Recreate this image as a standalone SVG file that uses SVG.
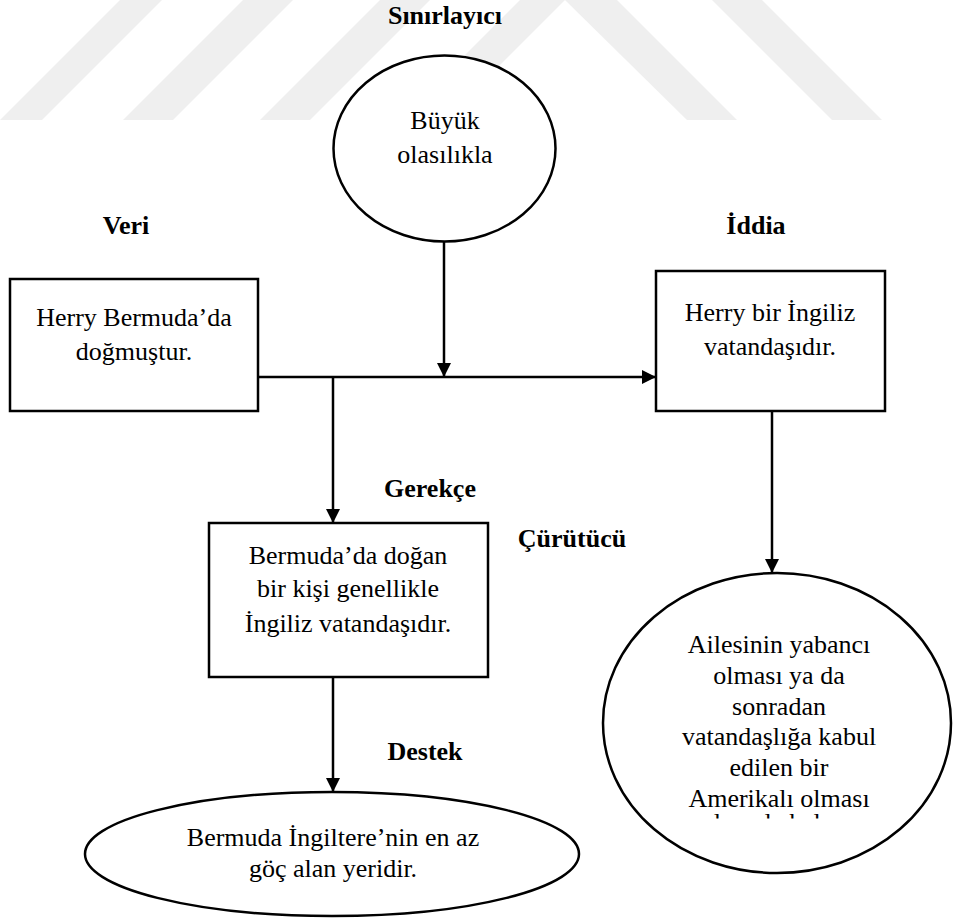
<svg xmlns="http://www.w3.org/2000/svg" width="953" height="918" viewBox="0 0 953 918">
<style>
.wm{fill:#efefef;stroke:none}
.shape{fill:#ffffff;stroke:#000000;stroke-width:2.5}
.t{font-family:"Liberation Serif","Times New Roman",serif;font-size:26px;fill:#000000;text-anchor:middle}
.b{font-weight:bold}
.conn{fill:none;stroke:#000000;stroke-width:2.5}
</style>
<defs>
<marker id="ah" markerUnits="userSpaceOnUse" markerWidth="16" markerHeight="16" refX="14" refY="7" orient="auto">
<path d="M0,0 L14,7 L0,14 z" fill="#000000"/>
</marker>
<clipPath id="clipLine">
<rect x="600" y="800" width="353" height="18.5"/>
</clipPath>
</defs>
<rect x="0" y="0" width="953" height="918" fill="#ffffff"/>
<g id="watermark">
<polygon class="wm" points="0,120 42,120 162,0 120,0 0,120"/>
<polygon class="wm" points="123,120 173,120 293,0 243,0"/>
<polygon class="wm" points="260,120 310,120 430,0 380,0"/>
<polygon class="wm" points="400,120 445,120 565,0 520,0"/>
<polygon class="wm" points="565,0 617,0 737,120 687,120"/>
<polygon class="wm" points="712,0 762,0 882,120 832,120"/>
</g>
<g id="connectors">
<line class="conn" x1="444" y1="241" x2="444" y2="377" marker-end="url(#ah)"/>
<line class="conn" x1="258" y1="377" x2="656" y2="377" marker-end="url(#ah)"/>
<line class="conn" x1="333" y1="377" x2="333" y2="523" marker-end="url(#ah)"/>
<line class="conn" x1="333" y1="677" x2="333" y2="792" marker-end="url(#ah)"/>
<line class="conn" x1="772" y1="411" x2="772" y2="573" marker-end="url(#ah)"/>
</g>
<g id="label-sinirlayici">
<text class="t b" x="445" y="24">Sınırlayıcı</text>
</g>
<g id="node-niteleyici">
<ellipse class="shape" cx="444.5" cy="148.5" rx="111" ry="93"/>
<text class="t" x="445" y="129">Büyük</text>
<text class="t" x="445" y="163">olasılıkla</text>
</g>
<g id="label-veri">
<text class="t b" x="126" y="234">Veri</text>
</g>
<g id="label-iddia">
<text class="t b" x="756" y="234">İddia</text>
</g>
<g id="node-veri">
<rect class="shape" x="10" y="279" width="248" height="132"/>
<text class="t" x="134" y="326">Herry Bermuda’da</text>
<text class="t" x="134" y="360">doğmuştur.</text>
</g>
<g id="node-iddia">
<rect class="shape" x="656" y="271" width="229" height="140"/>
<text class="t" x="770" y="321">Herry bir İngiliz</text>
<text class="t" x="770" y="355">vatandaşıdır.</text>
</g>
<g id="label-gerekce">
<text class="t b" x="430" y="497">Gerekçe</text>
</g>
<g id="label-curutucu">
<text class="t b" x="572" y="547">Çürütücü</text>
</g>
<g id="node-gerekce">
<rect class="shape" x="209" y="523" width="279" height="154"/>
<text class="t" x="348" y="564">Bermuda’da doğan</text>
<text class="t" x="348" y="597">bir kişi genellikle</text>
<text class="t" x="348" y="632">İngiliz vatandaşıdır.</text>
</g>
<g id="node-curutucu">
<ellipse class="shape" cx="777" cy="723" rx="174" ry="150"/>
<text class="t" x="779" y="653">Ailesinin yabancı</text>
<text class="t" x="779" y="684">olması ya da</text>
<text class="t" x="779" y="715">sonradan</text>
<text class="t" x="779" y="745">vatandaşlığa kabul</text>
<text class="t" x="779" y="776">edilen bir</text>
<text class="t" x="779" y="807">Amerikalı olması</text>
<text class="t" x="772" y="831" clip-path="url(#clipLine)">dışında kalır</text>
</g>
<g id="label-destek">
<text class="t b" x="425" y="760">Destek</text>
</g>
<g id="node-destek">
<ellipse class="shape" cx="332" cy="854" rx="247" ry="62"/>
<text class="t" x="333" y="846">Bermuda İngiltere’nin en az</text>
<text class="t" x="333" y="877">göç alan yeridir.</text>
</g>
</svg>
